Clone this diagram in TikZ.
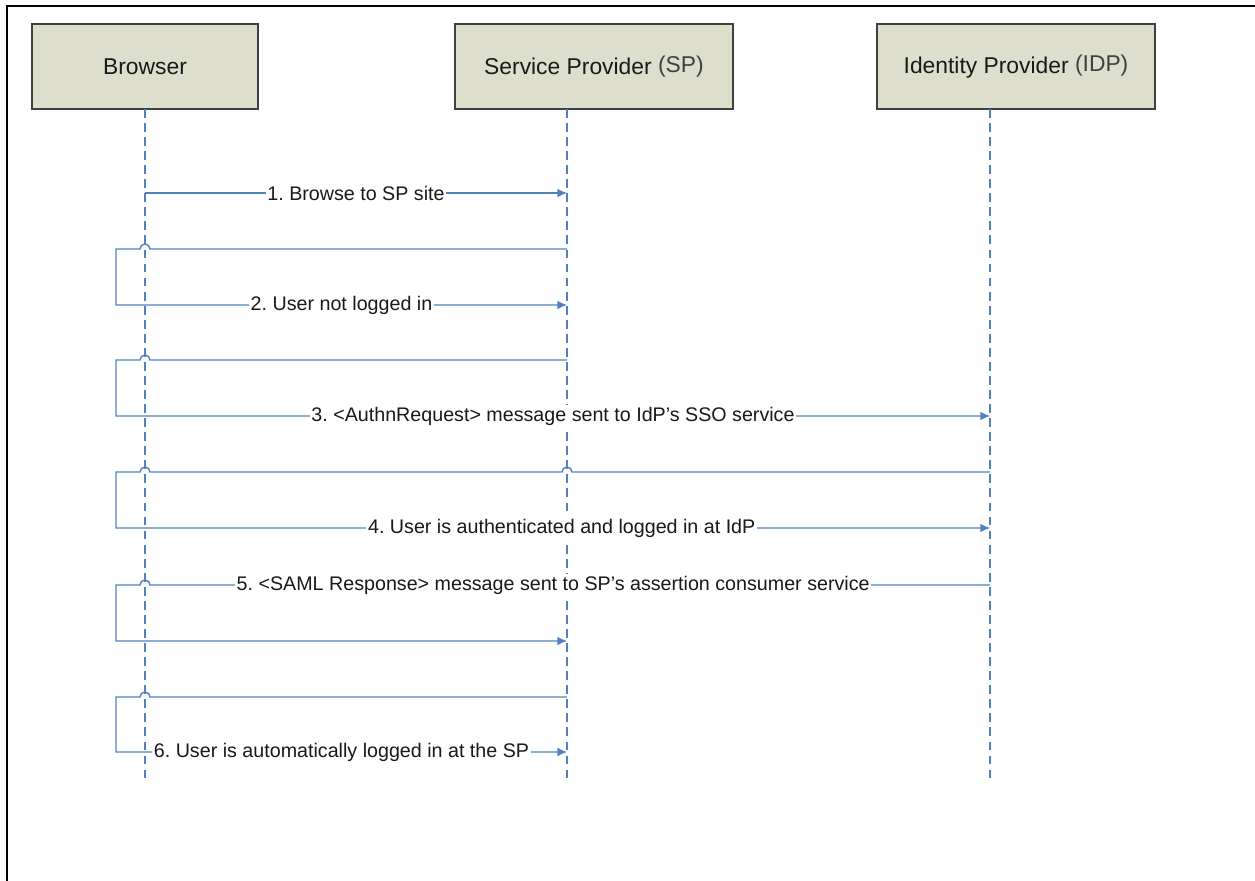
\documentclass[tikz,border=0pt]{standalone}
\usepackage{fontspec}
\setmainfont{Liberation Sans}
\usetikzlibrary{arrows.meta,calc}
\definecolor{msgblue}{RGB}{79,129,189}
\definecolor{actorfill}{RGB}{221,223,204}
\frenchspacing
\tikzset{
	actor/.style={draw=black!75, line width=1pt, fill=actorfill, minimum height=1.7cm, text=black!90, font=\fontsize{13}{15}\selectfont},
	life/.style={msgblue, line width=0.8pt, dash pattern=on 5pt off 3pt},
	msg/.style={msgblue, line width=0.8pt, -{Latex[length=5.5pt,width=5pt]}},
	lbl/.style={fill=white, inner sep=1pt, text=black!90, font=\fontsize{11.2}{13}\selectfont},
}
\begin{document}
\begin{tikzpicture}[x=0.02cm, y=0.02cm]
				\useasboundingbox (0,0) rectangle (1255,-881);
				\draw[line width=1.2pt] (7,-881) -- (7,-6) -- (1255,-6);
				\node[actor, minimum width=4.52cm] (browser) at (145,-66.5) {Browser};
				\node[actor, minimum width=5.56cm] (sp) at (594,-66.5) {Service Provider \raisebox{1pt}{\color{black!75}(SP)}};
				\node[actor, minimum width=5.56cm] (idp) at (1016,-66.5) {Identity Provider \raisebox{1pt}{\color{black!75}(IDP)}};
				\coordinate (lb) at (145,-109);
				\coordinate (ls) at (567,-109);
				\coordinate (li) at (990,-109);
				\coordinate (lp) at (116,-109);
				\coordinate (lend) at (0,-782);
				\coordinate (m1) at (0,-193);
				\coordinate (t2) at (0,-249);
				\coordinate (b2) at (0,-305);
				\coordinate (t3) at (0,-360);
				\coordinate (b3) at (0,-416);
				\coordinate (t4) at (0,-472);
				\coordinate (b4) at (0,-528);
				\coordinate (t5) at (0,-585);
				\coordinate (b5) at (0,-641);
				\coordinate (t6) at (0,-697);
				\coordinate (b6) at (0,-752);
				\draw[life] (lb) -- (lb |- lend);
				\draw[life] (ls) -- (ls |- lend);
				\draw[life] (li) -- (li |- lend);
				\draw[msg] (lb |- m1) -- (ls |- m1) node[lbl, midway] {1. Browse to SP site};
				\draw[msg] (ls |- t2) -- ($(lb |- t2)+(5,0)$) arc[start angle=0, end angle=180, radius=0.1cm] -- (lp |- t2) |- (ls |- b2) node[lbl, pos=0.75] {2. User not logged in};
				\draw[msg] (ls |- t3) -- ($(lb |- t3)+(5,0)$) arc[start angle=0, end angle=180, radius=0.1cm] -- (lp |- t3) |- (li |- b3) node[lbl, pos=0.75] {3. <AuthnRequest> message sent to IdP's SSO service};
				\draw[msg] (li |- t4) -- ($(ls |- t4)+(5,0)$) arc[start angle=0, end angle=180, radius=0.1cm] -- ($(lb |- t4)+(5,0)$) arc[start angle=0, end angle=180, radius=0.1cm] -- (lp |- t4) |- (li |- b4) node[lbl, pos=0.755] {4. User is authenticated and logged in at IdP};
				\draw[msg] (li |- t5) -- ($(lb |- t5)+(5,0)$) node[lbl, pos=0.52] {5. <SAML Response> message sent to SP's assertion consumer service} arc[start angle=0, end angle=180, radius=0.1cm] -- (lp |- t5) |- (ls |- b5);
				\draw[msg] (ls |- t6) -- ($(lb |- t6)+(5,0)$) arc[start angle=0, end angle=180, radius=0.1cm] -- (lp |- t6) |- (ls |- b6) node[lbl, pos=0.75] {6. User is automatically logged in at the SP};
			\end{tikzpicture}
\end{document}
